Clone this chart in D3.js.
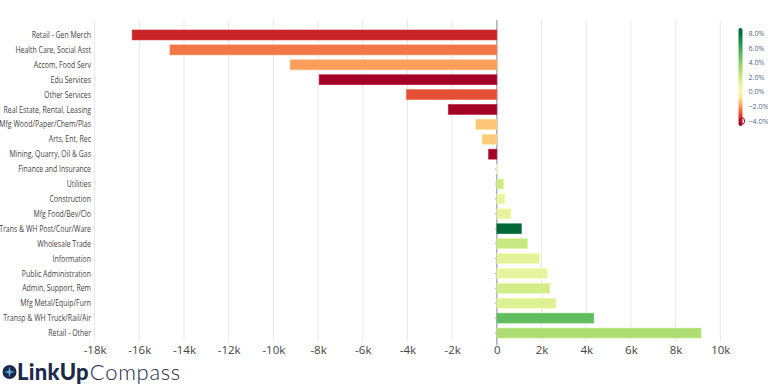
<!DOCTYPE html>
<html>
<head>
<meta charset="utf-8">
<script src="https://cdn.jsdelivr.net/npm/d3@7"></script>
<style>
  html, body { margin: 0; padding: 0; background: #fff; }
  svg { display: block; }
</style>
</head>
<body>
<svg id="chart" width="768" height="390"></svg>
<script>
const categories = [
  "Retail - Gen Merch", "Health Care, Social Asst", "Accom, Food Serv", "Edu Services",
  "Other Services", "Real Estate, Rental, Leasing", "Mfg Wood/Paper/Chem/Plas", "Arts, Ent, Rec",
  "Mining, Quarry, Oil & Gas", "Finance and Insurance", "Utilities", "Construction",
  "Mfg Food/Bev/Clo", "Trans & WH Post/Cour/Ware", "Wholesale Trade", "Information",
  "Public Administration", "Admin, Support, Rem", "Mfg Metal/Equip/Furn",
  "Transp & WH Truck/Rail/Air", "Retail - Other"
];

// job change (absolute)
const changes = [
  -16320, -14630, -9250, -7950, -4050, -2170, -940, -660, -370, -20,
  300, 360, 630, 1100, 1380, 1910, 2260, 2370, 2640, 4340, 9140
];

// percent change (drives colour)
const pctChanges = [
  -3.4, -2.3, -1.75, -4.5, -2.8, -4.5, -1.2, -1.1, -4.5, 0.2,
  1.9, 0.95, 1.1, 8.0, 2.1, 1.2, 1.05, 1.8, 1.4, 4.8, 2.9
];

const xTicks = [-18000, -16000, -14000, -12000, -10000, -8000, -6000, -4000, -2000, 0, 2000, 4000, 6000, 8000, 10000];
const colorTicks = [8, 6, 4, 2, 0, -2, -4];

const svg = d3.select("#chart");
const font = "'Open Sans', 'Noto Sans', sans-serif";

const x = d3.scaleLinear().domain([-18000, 10000]).range([94.6, 720.3]);
const y = d3.scaleBand().domain(categories).range([27.5, 340.5]).paddingInner(0.33).paddingOuter(0.165);
const color = d3.scaleDiverging([-4, 0, 8], d3.interpolateRdYlGn).clamp(true);

// gridlines
svg.append("g").selectAll("line")
  .data(xTicks.filter(d => d !== 0))
  .join("line")
  .attr("x1", d => x(d)).attr("x2", d => x(d))
  .attr("y1", 20).attr("y2", 341)
  .attr("stroke", "#e8e8e8").attr("stroke-width", 1);

// zero line
svg.append("line")
  .attr("x1", x(0)).attr("x2", x(0))
  .attr("y1", 20).attr("y2", 345)
  .attr("stroke", "#a9adbd").attr("stroke-width", 1.5);

// y-axis small ticks on zero line
svg.append("g").selectAll("line")
  .data(categories)
  .join("line")
  .attr("x1", x(0) - 2).attr("x2", x(0))
  .attr("y1", d => y(d) + y.bandwidth() / 2).attr("y2", d => y(d) + y.bandwidth() / 2)
  .attr("stroke", "#a9adbd").attr("stroke-width", 1);

// bars
const data = categories.map((c, i) => ({ c, v: changes[i], p: pctChanges[i] }));
svg.append("g").selectAll("rect")
  .data(data)
  .join("rect")
  .attr("x", d => Math.min(x(0), x(d.v)))
  .attr("width", d => Math.max(0.8, Math.abs(x(d.v) - x(0))))
  .attr("y", d => y(d.c))
  .attr("height", y.bandwidth())
  .attr("fill", d => color(d.p))
  .attr("stroke", d => d3.color(color(d.p)).brighter(0.3))
  .attr("stroke-opacity", 0.6)
  .attr("stroke-width", 0.8);

// category labels (horizontally condensed to match reference)
svg.append("g").selectAll("text")
  .data(categories)
  .join("text")
  .attr("transform", d => `translate(91,${y(d) + y.bandwidth() / 2}) scale(0.78,1)`)
  .attr("dy", "0.35em")
  .attr("text-anchor", "end")
  .attr("font-family", font)
  .attr("font-size", 8.9)
  .attr("fill", "#444")
  .text(d => d);

// x axis
const fmt = d => d === 0 ? "0" : (d / 1000) + "k";
const xAxis = svg.append("g")
  .attr("transform", "translate(0,341)")
  .call(d3.axisBottom(x).tickValues(xTicks).tickFormat(fmt).tickSize(0).tickPadding(4.5));
xAxis.select(".domain").remove();
xAxis.selectAll("text")
  .attr("font-family", font)
  .attr("font-size", 11.5)
  .attr("fill", "#444");

// colour bar
const cbTop = 28, cbBottom = 126, cbX = 738.5, cbW = 4;
const cy = d3.scaleLinear().domain([-4, 8]).range([121, 33.5]);
const defs = svg.append("defs");
const grad = defs.append("linearGradient").attr("id", "cbgrad")
  .attr("x1", 0).attr("x2", 0).attr("y1", 1).attr("y2", 0);
d3.range(0, 1.0001, 0.05).forEach(t => {
  const v = -4.4 + t * 12.8;
  grad.append("stop").attr("offset", t).attr("stop-color", color(v));
});
svg.append("rect")
  .attr("x", cbX).attr("y", cbTop)
  .attr("width", cbW).attr("height", cbBottom - cbTop)
  .attr("rx", 2).attr("ry", 2)
  .attr("fill", "url(#cbgrad)");
svg.append("ellipse")
  .attr("cx", cbX + cbW / 2 + 1.8).attr("cy", cy(-4))
  .attr("rx", 2.2).attr("ry", 3.2)
  .attr("fill", "none").attr("stroke", color(-4)).attr("stroke-width", 1);

svg.append("g").selectAll("text")
  .data(colorTicks)
  .join("text")
  .attr("x", 748.5)
  .attr("y", d => cy(d))
  .attr("dy", "0.35em")
  .attr("font-family", font)
  .attr("font-size", 7.2)
  .attr("fill", "#506784")
  .text(d => d3.format(".1f")(d) + "%");

// logo
const logo = svg.append("g");
logo.append("circle").attr("cx", 9.5).attr("cy", 372).attr("r", 7).attr("fill", "#1b2a4a");
logo.append("path")
  .attr("d", "M9.5,366.5 L10.6,370.9 L15,372 L10.6,373.1 L9.5,377.5 L8.4,373.1 L4,372 L8.4,370.9 Z")
  .attr("fill", "#5ab4e5");
logo.append("text")
  .attr("x", 17).attr("y", 379.5)
  .attr("font-family", "Lato, 'Open Sans', sans-serif")
  .attr("font-size", 22)
  .attr("fill", "#1b2a4a")
  .html('<tspan font-weight="900" letter-spacing="0.3">LinkUp</tspan><tspan font-weight="300" dx="1" letter-spacing="0.7">Compass</tspan>');
</script>
</body>
</html>
